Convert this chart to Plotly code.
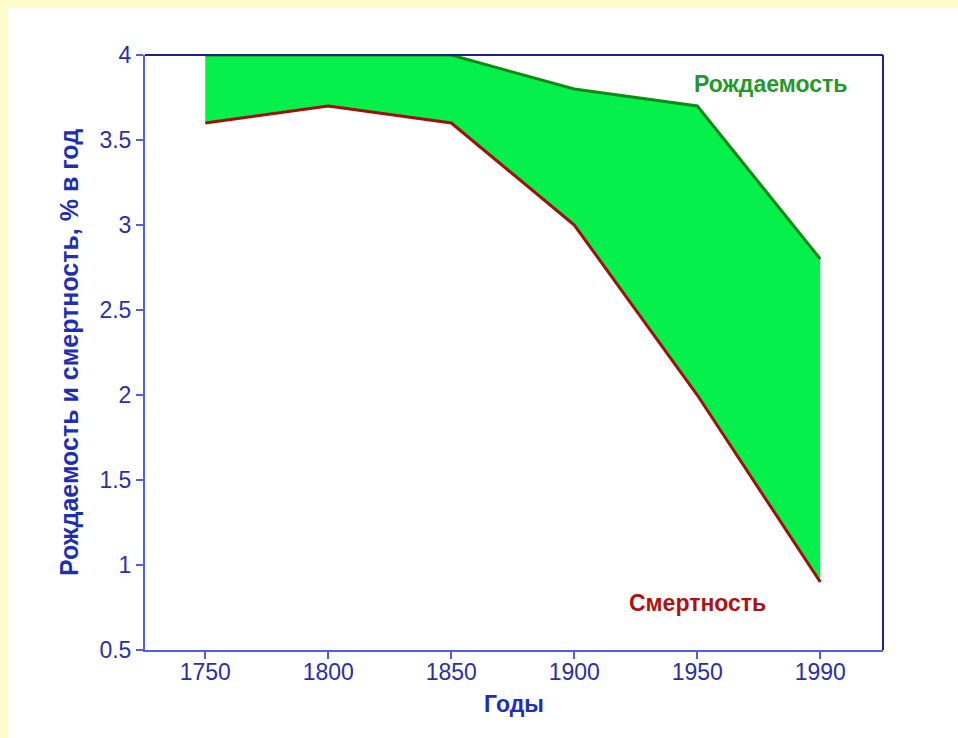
import plotly.graph_objects as go

years = ["1750", "1800", "1850", "1900", "1950", "1990"]
birth = [4.0, 4.0, 4.0, 3.8, 3.7, 2.8]
death = [3.6, 3.7, 3.6, 3.0, 2.0, 0.9]
y_ticks = [0.5, 1, 1.5, 2, 2.5, 3, 3.5, 4]
y_tick_labels = ["0.5", "1", "1.5", "2", "2.5", "3", "3.5", "4"]

FONT = "Arial, Liberation Sans, sans-serif"
AXIS_BLUE = "#4f5fe0"
TEXT_BLUE = "#2a2fa8"
DARK_FRAME = "#1c2288"

fig = go.Figure()
fig.add_trace(go.Scatter(x=years, y=death, mode="lines",
                         line=dict(width=0, color="#aa0000"),
                         showlegend=False, hoverinfo="skip"))
fig.add_trace(go.Scatter(x=years, y=birth, mode="lines", fill="tonexty",
                         fillcolor="#05f04a",
                         line=dict(color="#138a13", width=3),
                         name="Рождаемость", showlegend=False))
fig.add_trace(go.Scatter(x=years, y=death, mode="lines",
                         line=dict(color="#a50d0d", width=3),
                         name="Смертность", showlegend=False))

W, H = 958, 738
L, R, T, B = 145, 75, 55, 88
pw, ph = W - L - R, H - T - B

def px_x(px):
    return (px - L) / pw

def px_y(py):
    return 1 - (py - T) / ph

shapes = [
    dict(type="rect", xref="paper", yref="paper", x0=px_x(0), x1=px_x(W),
         y0=px_y(0), y1=px_y(8), fillcolor="#fffccc", line=dict(width=0), layer="below"),
    dict(type="rect", xref="paper", yref="paper", x0=px_x(0), x1=px_x(8),
         y0=px_y(0), y1=px_y(H), fillcolor="#fffccc", line=dict(width=0), layer="below"),
    dict(type="line", xref="paper", yref="paper", x0=0, x1=1, y0=1, y1=1,
         line=dict(color=DARK_FRAME, width=2)),
    dict(type="line", xref="paper", yref="paper", x0=1, x1=1, y0=0, y1=1,
         line=dict(color=DARK_FRAME, width=2)),
]

fig.update_layout(
    width=W, height=H,
    margin=dict(l=L, r=R, t=T, b=B),
    paper_bgcolor="white", plot_bgcolor="white",
    font=dict(family=FONT, color=TEXT_BLUE, size=22),
    shapes=shapes,
    xaxis=dict(
        type="category", range=[-0.49, 5.51],
        showgrid=False, zeroline=False,
        showline=True, linecolor=AXIS_BLUE, linewidth=2,
        ticks="outside", ticklen=7, tickwidth=1.5, tickcolor=AXIS_BLUE,
        ticklabelstandoff=-7,
        tickfont=dict(size=23, color=TEXT_BLUE, family=FONT),
        title=dict(text="<b>Годы</b>", font=dict(size=23, color="#1f2fb5", family=FONT), standoff=12),
    ),
    yaxis=dict(
        range=[0.5, 4.0], tickvals=y_ticks, ticktext=y_tick_labels,
        showgrid=False, zeroline=False,
        showline=True, linecolor=AXIS_BLUE, linewidth=2,
        ticks="outside", ticklen=7, tickwidth=1.5, tickcolor=AXIS_BLUE,
        tickfont=dict(size=23, color=TEXT_BLUE, family=FONT),
        title=dict(text="<b>Рождаемость и смертность, % в год</b>",
                   font=dict(size=25, color="#1f2fb5", family=FONT), standoff=14),
    ),
    annotations=[
        dict(text="<b>Рождаемость</b>", x=px_x(770), y=px_y(84), xref="paper", yref="paper",
             xanchor="center", yanchor="middle",
             showarrow=False, font=dict(size=23, color="#1f9a2a", family=FONT)),
        dict(text="<b>Смертность</b>", x=px_x(697), y=px_y(603), xref="paper", yref="paper",
             xanchor="center", yanchor="middle",
             showarrow=False, font=dict(size=23, color="#b01212", family=FONT)),
    ],
)

fig.write_html("out.html", config={"displayModeBar": False},
               post_script="document.body.style.margin='0';")
